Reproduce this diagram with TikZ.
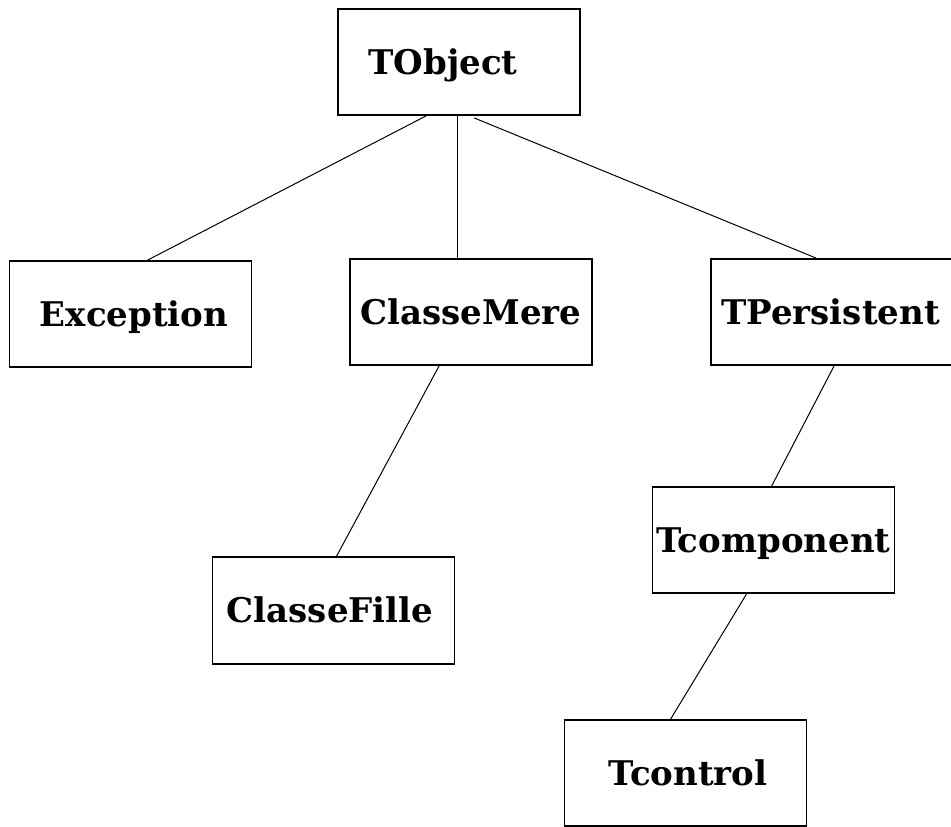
\documentclass[tikz,border=0pt]{standalone}
\usepackage{fontspec}
\setmainfont{DejaVu Serif}
\begin{document}
\begin{tikzpicture}[x=1pt,y=-1pt,
  cls/.style={draw=black, line width=1.8pt, rectangle, inner sep=0pt,
    minimum width=242pt, minimum height=106pt},
  lbl/.style={inner sep=0pt, text height=24.5pt, text depth=0pt,
    font=\fontsize{34}{40}\selectfont\bfseries},
  link/.style={draw=black, line width=1pt}]
\useasboundingbox (0,0) rectangle (951,827);
\node[cls, label={[lbl, xshift=-16pt]center:TObject}] (tobject) at (459,62) {};
\node[cls, label={[lbl, xshift=3.5pt]center:Exception}] (exception) at (130.5,314) {};
\node[cls, label={[lbl]center:ClasseMere}] (classemere) at (471,312) {};
\node[cls, label={[lbl, xshift=-1.5pt]center:TPersistent}] (tpersistent) at (832,312) {};
\node[cls, minimum height=107pt, label={[lbl, xshift=-3.5pt]center:ClasseFille}] (classefille) at (333.5,610.5) {};
\node[cls, label={[lbl]center:Tcomponent}] (tcomponent) at (773.5,540) {};
\node[cls, label={[lbl, xshift=2.5pt]center:Tcontrol}] (tcontrol) at (685.5,773) {};
\draw[link] ([xshift=89pt]tobject.south west) -- ([xshift=139pt]exception.north west);
\draw[link] ([xshift=120pt]tobject.south west) -- ([xshift=108pt]classemere.north west);
\draw[link] ([xshift=137pt,yshift=-2pt]tobject.south west) -- ([xshift=106pt]tpersistent.north west);
\draw[link] ([xshift=90pt]classemere.south west) -- ([xshift=125pt]classefille.north west);
\draw[link] ([xshift=124pt]tpersistent.south west) -- ([xshift=120pt]tcomponent.north west);
\draw[link] ([xshift=95pt]tcomponent.south west) -- ([xshift=107pt]tcontrol.north west);
\end{tikzpicture}
\end{document}
